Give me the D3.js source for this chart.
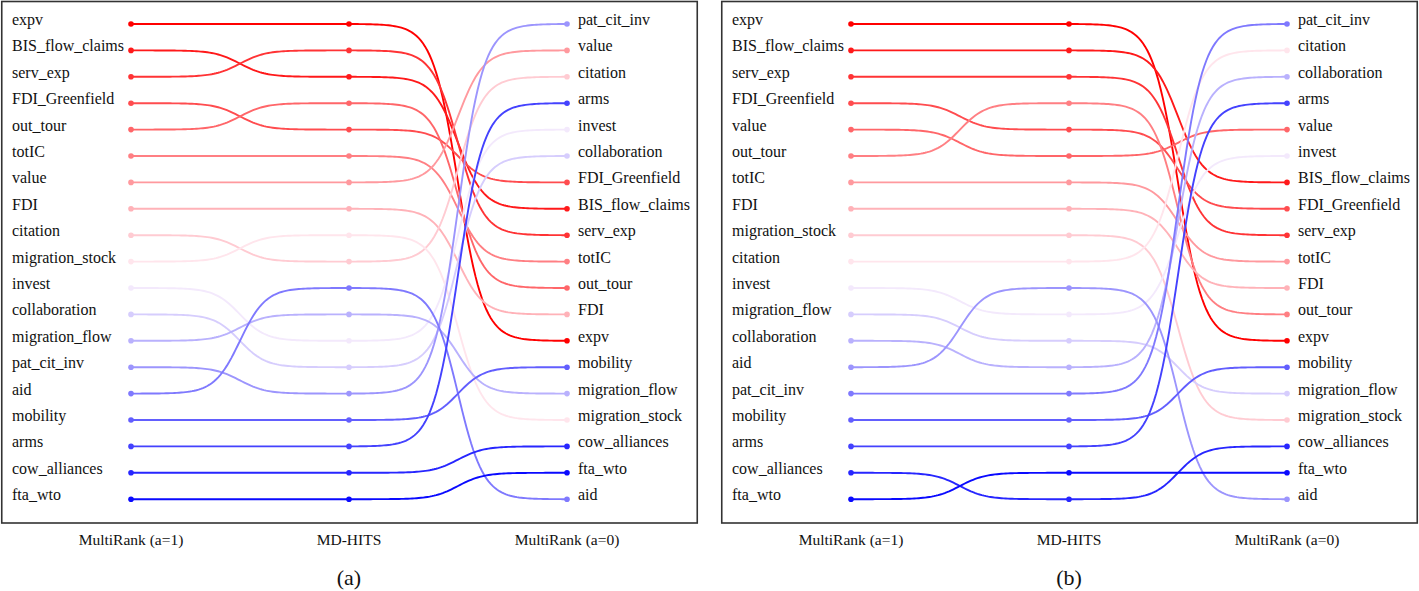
<!DOCTYPE html>
<html><head><meta charset="utf-8">
<script src="https://cdn.jsdelivr.net/npm/d3@7"></script>
<style>
html,body{margin:0;padding:0;background:#fff;}
text{font-family:"Liberation Serif","DejaVu Serif",serif;fill:#111;}
</style></head>
<body><svg id="chart" width="1419" height="591"></svg>
<script>
// ---- data ----
const columns = ["MultiRank (a=1)", "MD-HITS", "MultiRank (a=0)"];
const panelLabels = ["(a)", "(b)"];

const a_multiRankA1 = ["expv","BIS_flow_claims","serv_exp","FDI_Greenfield","out_tour","totIC","value","FDI","citation","migration_stock","invest","collaboration","migration_flow","pat_cit_inv","aid","mobility","arms","cow_alliances","fta_wto"];
const a_mdHits = ["expv","serv_exp","BIS_flow_claims","out_tour","FDI_Greenfield","totIC","value","FDI","migration_stock","citation","aid","migration_flow","invest","collaboration","pat_cit_inv","mobility","arms","cow_alliances","fta_wto"];
const a_multiRankA0 = ["pat_cit_inv","value","citation","arms","invest","collaboration","FDI_Greenfield","BIS_flow_claims","serv_exp","totIC","out_tour","FDI","expv","mobility","migration_flow","migration_stock","cow_alliances","fta_wto","aid"];

const b_multiRankA1 = ["expv","BIS_flow_claims","serv_exp","FDI_Greenfield","value","out_tour","totIC","FDI","migration_stock","citation","invest","migration_flow","collaboration","aid","pat_cit_inv","mobility","arms","cow_alliances","fta_wto"];
const b_mdHits = ["expv","BIS_flow_claims","serv_exp","out_tour","FDI_Greenfield","value","totIC","FDI","migration_stock","citation","aid","invest","migration_flow","collaboration","pat_cit_inv","mobility","arms","fta_wto","cow_alliances"];
const b_multiRankA0 = ["pat_cit_inv","citation","collaboration","arms","value","invest","BIS_flow_claims","FDI_Greenfield","serv_exp","totIC","FDI","out_tour","expv","mobility","migration_flow","migration_stock","cow_alliances","fta_wto","aid"];

const panels = [
  [a_multiRankA1, a_mdHits, a_multiRankA0],
  [b_multiRankA1, b_mdHits, b_multiRankA0]
];

// ---- drawing ----
const svg = d3.select("#chart");
const n = a_multiRankA1.length;
const y = d3.scaleLinear().domain([0, n - 1]).range([24, 499.2]);
const color = d3.scaleLinear().domain([0, 9.6, n - 1]).range(["#ff0000", "#fff4fc", "#0a0aff"]).interpolate(d3.interpolateRgb);
const K = 17;
const sig = v => 1 / (1 + Math.exp(-v));
const S = t => (sig(K * (t - 0.5)) - sig(-K / 2)) / (sig(K / 2) - sig(-K / 2));
const ts = d3.range(0, 1.0001, 1 / 100);

panels.forEach((cols, pi) => {
  const off = pi * 720;
  const g = svg.append("g").attr("transform", `translate(${off},0)`);
  const x = d3.scalePoint().domain(columns).range([131, 567]);

  g.append("rect").attr("x", 1.75).attr("y", 1.5).attr("width", 695.5).attr("height", 521.5)
    .attr("fill", "none").attr("stroke", "#333").attr("stroke-width", 1.6);

  const names = cols[0];
  const line = d3.line().x(d => d[0]).y(d => d[1]);

  names.forEach((name, i) => {
    const ranks = cols.map(c => c.indexOf(name));
    const pts = [];
    for (let j = 0; j < cols.length - 1; j++) {
      const x0 = x(columns[j]), x1 = x(columns[j + 1]);
      const y0 = y(ranks[j]), y1 = y(ranks[j + 1]);
      ts.forEach(t => pts.push([x0 + (x1 - x0) * t, y0 + (y1 - y0) * S(t)]));
    }
    const c = color(i);
    g.append("path").attr("d", line(pts)).attr("fill", "none")
      .attr("stroke", c).attr("stroke-width", 1.9);
    ranks.forEach((r, j) => {
      g.append("circle").attr("cx", x(columns[j])).attr("cy", y(r)).attr("r", 2.8).attr("fill", c);
    });
  });

  // left labels
  g.selectAll("text.left").data(cols[0]).join("text").attr("class", "left")
    .attr("x", 12).attr("y", (d, i) => y(i) + 1).attr("font-size", 16).text(d => d);
  // right labels
  g.selectAll("text.right").data(cols[2]).join("text").attr("class", "right")
    .attr("x", 578).attr("y", (d, i) => y(i) + 1).attr("font-size", 16).text(d => d);
  // column titles
  g.selectAll("text.col").data(columns).join("text").attr("class", "col")
    .attr("x", d => x(d)).attr("y", 545).attr("text-anchor", "middle").attr("font-size", 15.5).text(d => d);
  // panel label
  g.append("text").attr("x", x(columns[1])).attr("y", 585).attr("text-anchor", "middle")
    .attr("font-size", 22).text(panelLabels[pi]);
});
</script></body></html>
